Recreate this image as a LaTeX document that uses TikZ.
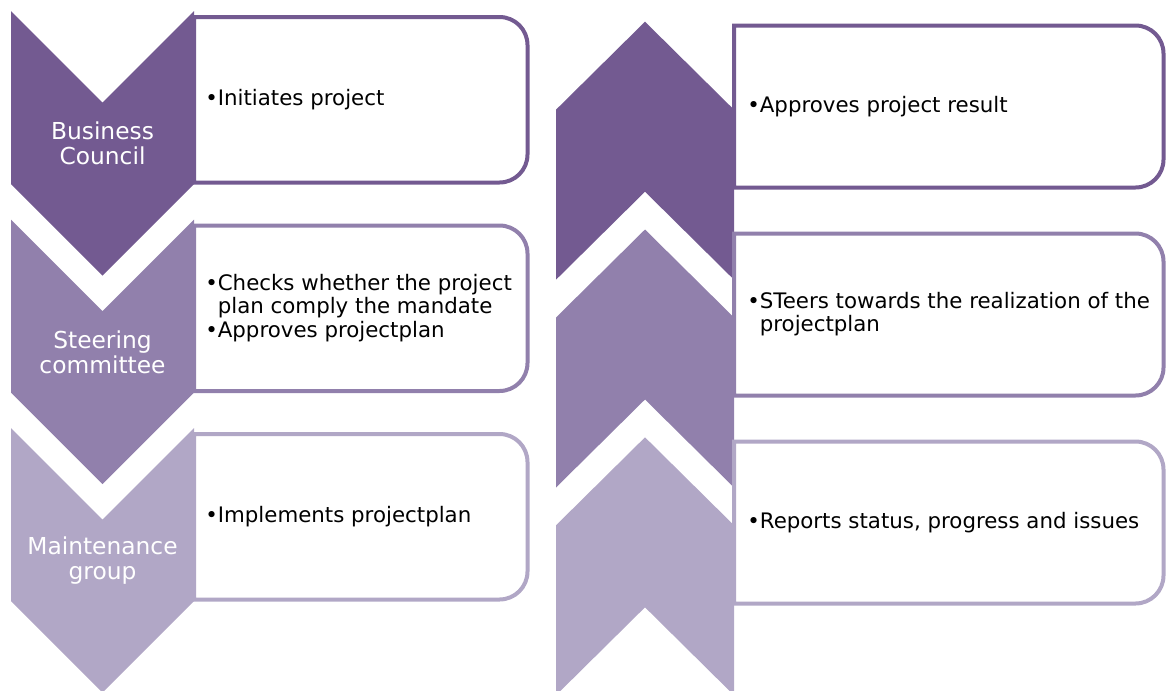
\documentclass[tikz,border=0pt]{standalone}
\usepackage{fontspec}
\setmainfont{DejaVu Sans}
\usetikzlibrary{calc}
\definecolor{darkviolet}{RGB}{115,90,145}
\definecolor{midviolet}{RGB}{145,128,172}
\definecolor{lightviolet}{RGB}{177,167,198}
\tikzstyle{box line}=[line width=3pt, fill=white]
\tikzstyle{role text}=[text=white, align=center, inner sep=0pt, font=\fontsize{17.5}{18.8}\selectfont]
\tikzstyle{task text}=[anchor=west, align=left, inner sep=0pt, font=\fontsize{16}{17.6}\selectfont]

\begin{document}
\begin{tikzpicture}[x=0.75pt, y=-0.75pt]

		\useasboundingbox (0,0) rectangle (1167,690);
		\clip (0,0) rectangle (1167,690);

		% Left column: boxes, then chevrons pointing down
		\foreach \c/\o in {darkviolet/0, midviolet/208.5, lightviolet/417}
		{
		\draw[box line, draw=\c] (194,100+\o) -- (194,17+\o) [rounded corners=21pt] -- (527.5,17+\o) -- (527.5,182.5+\o) [sharp corners] -- (194,182.5+\o) -- cycle;
		\fill[\c] (11,11+\o) -- (102.5,102.5+\o) -- (194,11+\o) -- (194,184+\o) -- (102.5,275.5+\o) -- (11,184+\o) -- cycle;
		}

		% Right column: chevrons pointing up, then boxes
		\foreach \c/\o in {darkviolet/0, midviolet/207.8, lightviolet/415.6}
		{
		\fill[\c] (645,21.7+\o) -- (734,109.7+\o) -- (734,279.7+\o) -- (645,191.7+\o) -- (556,279.7+\o) -- (556,109.7+\o) -- cycle;
		}
		\foreach \c/\o in {darkviolet/0, midviolet/208, lightviolet/416}
		{
		\draw[box line, draw=\c] (734,100+\o) -- (734,25.5+\o) [rounded corners=21pt] -- (1163.5,25.5+\o) -- (1163.5,187.5+\o) [sharp corners] -- (734,187.5+\o) -- cycle;
		}

		% Roles
		\node[role text] (council) at (102.5,143.5) {Business\\Council};
		\node[role text] (steering) at (102.5,352) {Steering\\committee};
		\node[role text] (maintenance) at (102.5,560.5) {Maintenance\\group};

		% Tasks
		\node[task text] (initiates) at (205,100) {•Initiates project};
		\node[task text] (checks) at (205,308) {•Checks whether the project\\\hphantom{•}plan comply the mandate\\•Approves projectplan};
		\node[task text] (implements) at (205,517) {•Implements projectplan};
		\node[task text] (approves) at (747,107) {•Approves project result};
		\node[task text] (steers) at (747,314) {•STeers towards the realization of the\\\hphantom{•}projectplan};
		\node[task text] (reports) at (747,522.5) {•Reports status, progress and issues};

\end{tikzpicture}
\end{document}
